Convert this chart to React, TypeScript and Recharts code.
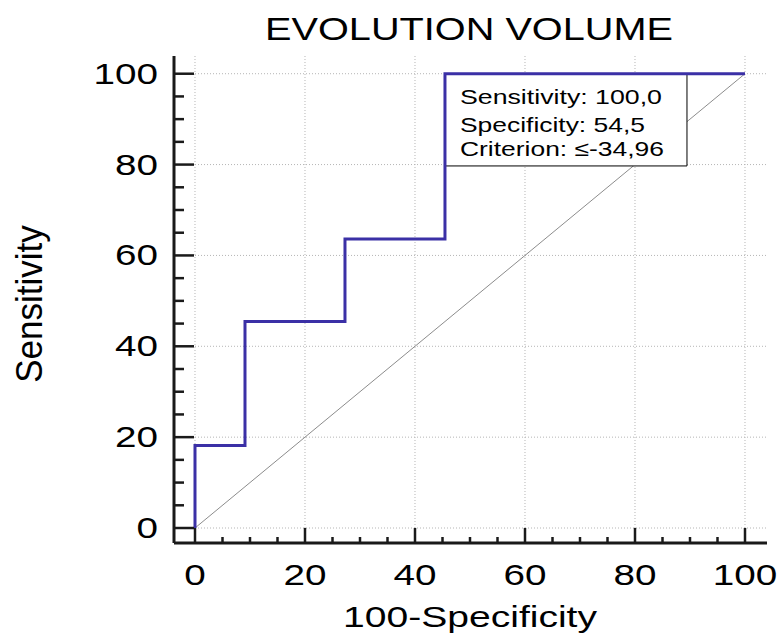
import React from 'react';
import { LineChart, Line, XAxis, YAxis, CartesianGrid, ReferenceArea, Customized } from 'recharts';

// ROC curve corner points (100-Specificity, Sensitivity)
const fpr = [0, 0, 9.09, 9.09, 27.27, 27.27, 45.45, 45.45, 100];
const sens = [0, 18.18, 18.18, 45.45, 45.45, 63.64, 63.64, 100, 100];
// reference diagonal
const diagX = [0, 100];
const diagY = [0, 100];
// ticks
const majorTicks = [0, 20, 40, 60, 80, 100];
const allTicks = [0, 5, 10, 15, 20, 25, 30, 35, 40, 45, 50, 55, 60, 65, 70, 75, 80, 85, 90, 95, 100];
// info box
const boxLines = ['Sensitivity: 100,0', 'Specificity: 54,5', 'Criterion: \u2264-34,96'];
const boxLineWidths = [202, 185, 204];
const boxXRange = [45.45, 89.45];
const boxYRange = [79.7, 100];
const titleText = 'EVOLUTION VOLUME';
const xTitle = '100-Specificity';
const yTitle = 'Sensitivity';

const rocData = fpr.map((x, i) => ({ x, y: sens[i] }));
const diagData = diagX.map((x, i) => ({ x, y: diagY[i] }));

const FONT = '"Liberation Sans", Arial, sans-serif';
const AXIS_COLOR = '#1a1a1a';

const YTick = (props: any) => {
  const { x, y, payload } = props;
  const v = payload.value;
  const major = majorTicks.includes(v);
  const label = String(v);
  return (
    <g>
      <line x1={x} y1={y} x2={x + (major ? 20 : 10)} y2={y} stroke={AXIS_COLOR} strokeWidth={2.5} />
      {major && (
        <text x={x - 16} y={y + 10} textAnchor="end" fontFamily={FONT} fontSize={30} fill="#000"
          textLength={label.length * 21.5} lengthAdjust="spacingAndGlyphs">{label}</text>
      )}
    </g>
  );
};

const XTick = (props: any) => {
  const { x, y, payload } = props;
  const v = payload.value;
  const major = majorTicks.includes(v);
  const label = String(v);
  return (
    <g>
      <line x1={x} y1={y} x2={x} y2={y - (major ? 15 : 6)} stroke={AXIS_COLOR} strokeWidth={2.5} />
      {major && (
        <text x={x} y={y + 42} textAnchor="middle" fontFamily={FONT} fontSize={30} fill="#000"
          textLength={label.length * 21.5} lengthAdjust="spacingAndGlyphs">{label}</text>
      )}
    </g>
  );
};

const BoxText = (props: any) => {
  const vb = props.viewBox || {};
  const x0 = vb.x ?? 0;
  const y0 = vb.y ?? 0;
  const offsets = [30, 58, 82];
  return (
    <g>
      {boxLines.map((t, i) => (
        <text key={i} x={x0 + 15} y={y0 + offsets[i]} fontFamily={FONT} fontSize={21} fill="#000"
          textLength={boxLineWidths[i]} lengthAdjust="spacingAndGlyphs">{t}</text>
      ))}
    </g>
  );
};

const Titles = () => (
  <g>
    <text x={469} y={40} textAnchor="middle" fontFamily={FONT} fontSize={32} fill="#000"
      textLength={408} lengthAdjust="spacingAndGlyphs">{titleText}</text>
    <text x={470} y={627} textAnchor="middle" fontFamily={FONT} fontSize={30} fill="#000"
      textLength={254} lengthAdjust="spacingAndGlyphs">{xTitle}</text>
    <text transform="translate(42,304) rotate(-90) scale(1.25,1.35)" x={0} y={0} textAnchor="middle"
      fontFamily={FONT} fontSize={28} fill="#000">{yTitle}</text>
  </g>
);

export default function App() {
  return (
    <div style={{ position: 'absolute', left: 0, top: 0, width: 780, height: 639, background: '#fff' }}>
      <LineChart width={780} height={639} margin={{ top: 56, right: 13, left: 0, bottom: 0 }}>
        <CartesianGrid
          stroke="#b5b5b5"
          strokeDasharray="1 2"
          horizontalValues={majorTicks}
          verticalValues={majorTicks}
        />
        <XAxis
          type="number"
          dataKey="x"
          domain={[-3.818, 104]}
          allowDataOverflow
          ticks={allTicks}
          interval={0}
          height={96}
          tickSize={0}
          tickMargin={0}
          tickLine={false}
          axisLine={{ stroke: AXIS_COLOR, strokeWidth: 3 }}
          tick={(p: any) => <XTick {...p} />}
        />
        <YAxis
          type="number"
          dataKey="y"
          domain={[-3.3, 103.9]}
          allowDataOverflow
          ticks={allTicks}
          interval={0}
          width={174}
          tickSize={0}
          tickMargin={0}
          tickLine={false}
          axisLine={{ stroke: AXIS_COLOR, strokeWidth: 3 }}
          tick={(p: any) => <YTick {...p} />}
        />
        <Line
          data={diagData}
          dataKey="y"
          type="linear"
          stroke="#8c8c8c"
          strokeWidth={1}
          dot={false}
          activeDot={false}
          isAnimationActive={false}
          zIndex={50}
        />
        <ReferenceArea
          x1={boxXRange[0]}
          x2={boxXRange[1]}
          y1={boxYRange[0]}
          y2={boxYRange[1]}
          fill="#ffffff"
          fillOpacity={1}
          stroke="#000"
          strokeWidth={1}
          zIndex={60}
          label={<BoxText />}
        />
        <Line
          data={rocData}
          dataKey="y"
          type="linear"
          stroke="#3b30a6"
          strokeWidth={3}
          dot={false}
          activeDot={false}
          isAnimationActive={false}
          zIndex={400}
        />
        <Customized component={<Titles />} />
      </LineChart>
    </div>
  );
}
